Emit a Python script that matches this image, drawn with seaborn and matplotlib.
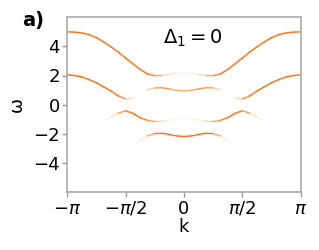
import numpy as np
import matplotlib
matplotlib.use("Agg")
import matplotlib.pyplot as plt
from matplotlib.collections import LineCollection
import seaborn as sns

# k in units of pi
k_pi = [-1, -0.9375, -0.875, -0.8125, -0.75, -0.6875, -0.625, -0.5625, -0.5,
        -0.4375, -0.375, -0.3125, -0.25, -0.1875, -0.125, -0.0625, 0,
        0.0625, 0.125, 0.1875, 0.25, 0.3125, 0.375, 0.4375, 0.5,
        0.5625, 0.625, 0.6875, 0.75, 0.8125, 0.875, 0.9375, 1]

# band energies
band1 = [5.0, 4.98, 4.92, 4.8, 4.6, 4.3, 3.97, 3.6, 3.2, 2.8, 2.42, 2.1, 1.99, 2.0, 2.08, 2.17, 2.2,
         2.17, 2.08, 2.0, 1.99, 2.1, 2.42, 2.8, 3.2, 3.6, 3.97, 4.3, 4.6, 4.8, 4.92, 4.98, 5.0]
band2 = [2.05, 2.0, 1.9, 1.72, 1.5, 1.22, 0.93, 0.6, 0.38, 0.45, 0.75, 1.02, 1.15, 1.16, 1.08, 0.98, 0.95,
         0.98, 1.08, 1.16, 1.15, 1.02, 0.75, 0.45, 0.38, 0.6, 0.93, 1.22, 1.5, 1.72, 1.9, 2.0, 2.05]
band3 = [-2.0, -1.95, -1.85, -1.65, -1.42, -1.13, -0.85, -0.58, -0.42, -0.6, -0.9, -1.08, -1.16, -1.14, -1.07, -1.0, -0.97,
         -1.0, -1.07, -1.14, -1.16, -1.08, -0.9, -0.6, -0.42, -0.58, -0.85, -1.13, -1.42, -1.65, -1.85, -1.95, -2.0]
band4 = [-5.0, -4.97, -4.88, -4.72, -4.5, -4.15, -3.8, -3.45, -3.1, -2.75, -2.45, -2.15, -1.99, -1.97, -2.05, -2.15, -2.19,
         -2.15, -2.05, -1.97, -1.99, -2.15, -2.45, -2.75, -3.1, -3.45, -3.8, -4.15, -4.5, -4.72, -4.88, -4.97, -5.0]

# spectral weight along each band (0..1)
weight1 = [0.6, 0.6, 0.6, 0.6, 0.6, 0.6, 0.6, 0.6, 0.6, 0.6, 0.6, 0.58, 0.5, 0.35, 0.2, 0.14, 0.12,
           0.14, 0.2, 0.35, 0.5, 0.58, 0.6, 0.6, 0.6, 0.6, 0.6, 0.6, 0.6, 0.6, 0.6, 0.6, 0.6]
weight2 = [0.6, 0.6, 0.6, 0.6, 0.6, 0.6, 0.6, 0.58, 0.45, 0.08, 0.05, 0.2, 0.45, 0.5, 0.45, 0.4, 0.4,
           0.4, 0.45, 0.5, 0.45, 0.2, 0.05, 0.08, 0.45, 0.58, 0.6, 0.6, 0.6, 0.6, 0.6, 0.6, 0.6]
weight3 = [0.02, 0.02, 0.03, 0.04, 0.06, 0.1, 0.18, 0.35, 0.55, 0.62, 0.62, 0.5, 0.4, 0.25, 0.15, 0.1, 0.08,
           0.1, 0.15, 0.25, 0.4, 0.5, 0.62, 0.62, 0.55, 0.35, 0.18, 0.1, 0.06, 0.04, 0.03, 0.02, 0.02]
weight4 = [0.01, 0.01, 0.02, 0.02, 0.02, 0.03, 0.03, 0.04, 0.05, 0.07, 0.12, 0.3, 0.55, 0.62, 0.62, 0.58, 0.58,
           0.58, 0.62, 0.62, 0.55, 0.3, 0.12, 0.07, 0.05, 0.04, 0.03, 0.03, 0.02, 0.02, 0.02, 0.01, 0.01]

xtick_pos = [-np.pi, -np.pi / 2, 0, np.pi / 2, np.pi]
xtick_lab = [r'$-\pi$', r'$-\pi/2$', '0', r'$\pi/2$', r'$\pi$']
ytick_pos = [-4, -2, 0, 2, 4]

sns.set_theme(style="white")
plt.rcParams['font.family'] = ['DejaVu Sans']
plt.rcParams['mathtext.fontset'] = 'dejavusans'
plt.rcParams['text.color'] = 'black'
plt.rcParams['axes.labelcolor'] = 'black'
plt.rcParams['xtick.color'] = 'black'
plt.rcParams['ytick.color'] = 'black'

cmap = sns.color_palette("Oranges", as_cmap=True)

fig = plt.figure(figsize=(3.19, 2.5), dpi=100)
ax = fig.add_axes([0.211, 0.232, 0.7316, 0.699])

k = np.array(k_pi) * np.pi
for band, weight in [(band1, weight1), (band2, weight2), (band3, weight3), (band4, weight4)]:
    pts = np.column_stack([k, band])
    segs = np.stack([pts[:-1], pts[1:]], axis=1)
    w = np.array(weight)
    wseg = 0.5 * (w[:-1] + w[1:])
    core = cmap(wseg)
    core[:, 3] = np.clip(wseg / 0.45, 0, 1)
    halo = cmap(wseg * 0.5)
    halo[:, 3] = np.clip(wseg / 0.6, 0, 1) * 0.3
    # faint halo + thin core to imitate the broadened spectral line
    ax.add_collection(LineCollection(segs, colors=halo, linewidths=2.0, capstyle='round'))
    ax.add_collection(LineCollection(segs, colors=core, linewidths=0.9, capstyle='round'))

ax.set_xlim(-np.pi, np.pi)
ax.set_ylim(-6, 6)
ax.set_xticks(xtick_pos)
ax.set_xticklabels(xtick_lab)
ax.set_yticks(ytick_pos)
ax.tick_params(labelsize=13, left=True, bottom=True, length=3.5, width=1,
               color='#999999', pad=2)
for sp in ax.spines.values():
    sp.set_color('#aaaaaa')
    sp.set_linewidth(1.2)

ax.set_xlabel('k', fontsize=13, labelpad=0)
ax.set_ylabel('ω', fontsize=13, labelpad=5)
ax.text(0.54, 0.88, r'$\Delta_1 = 0$', transform=ax.transAxes,
        ha='center', va='center', fontsize=14)
fig.text(0.068, 0.896, 'a)', fontsize=14, fontweight='bold', va='baseline')

fig.savefig('out.png', dpi=100)
